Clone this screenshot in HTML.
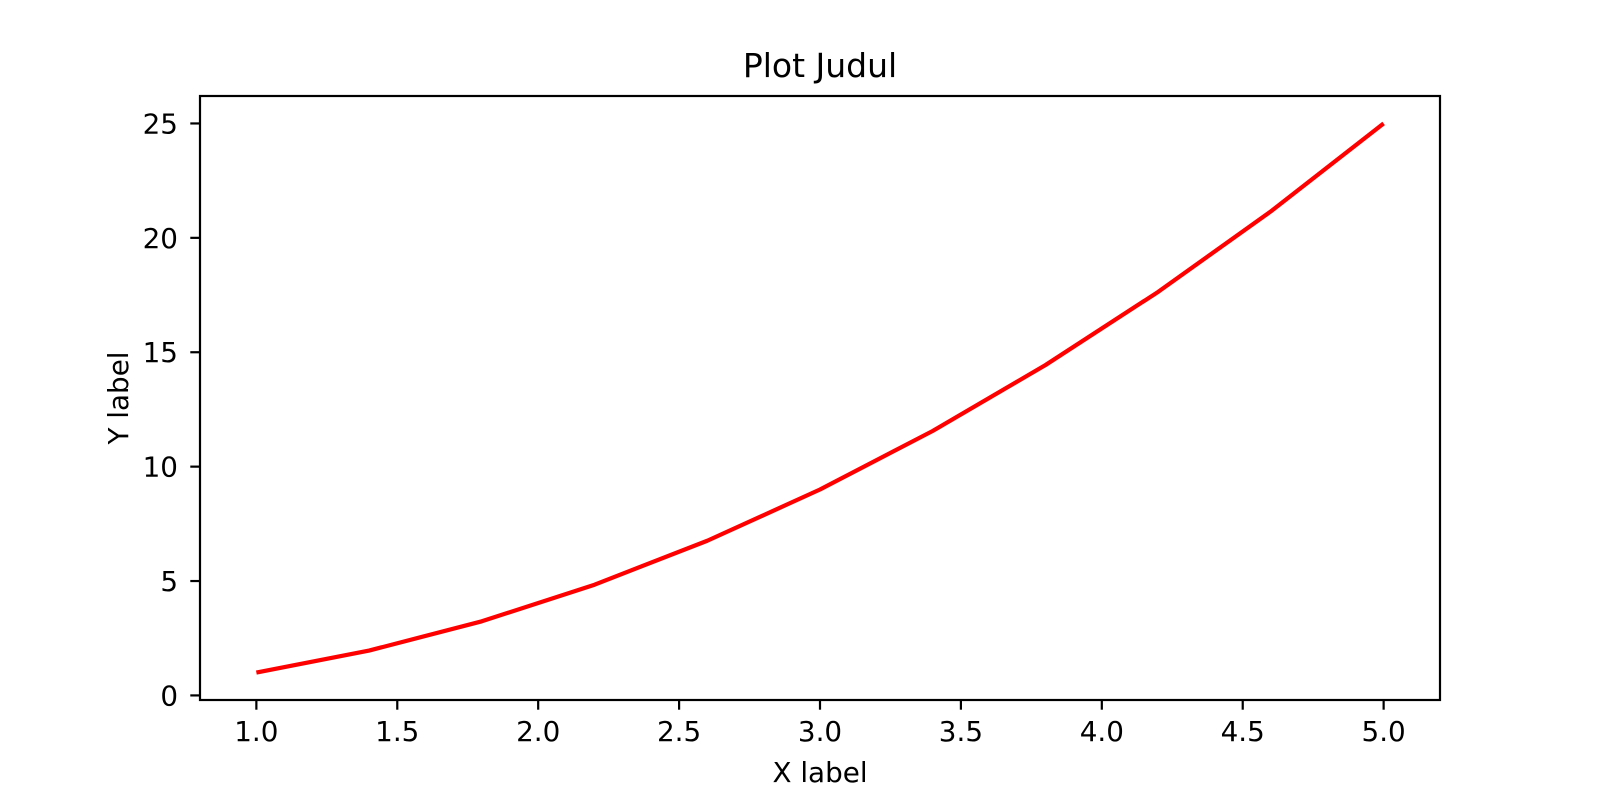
<!DOCTYPE html>
<html><head><meta charset="utf-8"><style>
html,body{margin:0;padding:0;background:#fff;}
svg{display:block;font-family:"DejaVu Sans","Liberation Sans",sans-serif;}
</style></head><body>
<svg id="chart" width="1600" height="800" viewBox="0 0 1600 800">
<rect x="0" y="0" width="1600" height="800" fill="#fff"/>
<text x="820" y="77" font-size="33" text-anchor="middle">Plot Judul</text>
<text x="820" y="782" font-size="27.8" text-anchor="middle">X label</text>
<text transform="translate(128,398) rotate(-90)" font-size="27.8" text-anchor="middle">Y label</text>
<g id="xticks"></g>
<g id="yticks"></g>
<g id="series"></g>
<rect x="200" y="96" width="1240" height="604" fill="none" stroke="#000" stroke-width="2.2"/>
</svg>
<script>
const xValues = [1.0, 1.4, 1.8, 2.2, 2.6, 3.0, 3.4, 3.8, 4.2, 4.6, 5.0];
const yValues = [1.0, 1.96, 3.24, 4.84, 6.76, 9.0, 11.56, 14.44, 17.64, 21.16, 25.0];
const xTicks = [1.0, 1.5, 2.0, 2.5, 3.0, 3.5, 4.0, 4.5, 5.0];
const xTickLabels = ["1.0","1.5","2.0","2.5","3.0","3.5","4.0","4.5","5.0"];
const yTicks = [0, 5, 10, 15, 20, 25];
const yTickLabels = ["0","5","10","15","20","25"];

const L=200,R=1440,T=96,B=700;
const xMin=0.8,xMax=5.2,yMin=-0.2,yMax=26.2;
const sx=v=>L+(v-xMin)/(xMax-xMin)*(R-L);
const sy=v=>B-(v-yMin)/(yMax-yMin)*(B-T);
const NS="http://www.w3.org/2000/svg";

const xg=document.getElementById('xticks');
xTicks.forEach((t,i)=>{
  const l=document.createElementNS(NS,'line');
  l.setAttribute('x1',sx(t));l.setAttribute('x2',sx(t));l.setAttribute('y1',B);l.setAttribute('y2',B+9.7);
  l.setAttribute('stroke','#000');l.setAttribute('stroke-width','2.2');
  
  
  xg.appendChild(l);
  const tx=document.createElementNS(NS,'text');
  tx.setAttribute('x',sx(t));tx.setAttribute('y',741);tx.setAttribute('font-size','27.8');tx.setAttribute('text-anchor','middle');
  tx.textContent=xTickLabels[i];
  
  
  xg.appendChild(tx);
});
const yg=document.getElementById('yticks');
yTicks.forEach((t,i)=>{
  const l=document.createElementNS(NS,'line');
  l.setAttribute('x1',L-9.7);l.setAttribute('x2',L);l.setAttribute('y1',sy(t));l.setAttribute('y2',sy(t));
  l.setAttribute('stroke','#000');l.setAttribute('stroke-width','2.2');
  
  
  yg.appendChild(l);
  const tx=document.createElementNS(NS,'text');
  tx.setAttribute('x',178);tx.setAttribute('y',sy(t)+10);tx.setAttribute('font-size','27.8');tx.setAttribute('text-anchor','end');
  tx.textContent=yTickLabels[i];
  
  
  yg.appendChild(tx);
});
const p=document.createElementNS(NS,'polyline');
p.setAttribute('points',xValues.map((x,i)=>sx(x)+','+sy(yValues[i])).join(' '));
p.setAttribute('fill','none');p.setAttribute('stroke','#ff0000');p.setAttribute('stroke-width','4.2');p.setAttribute('stroke-linejoin','round');


document.getElementById('series').appendChild(p);
</script>
</body></html>
